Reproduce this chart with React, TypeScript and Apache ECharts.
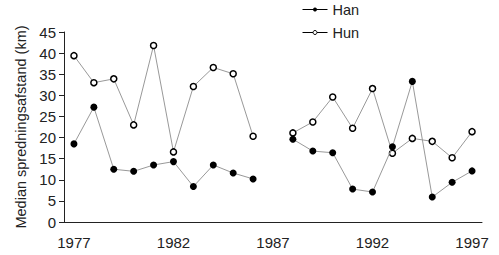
import React, { useEffect, useRef } from "react";
import * as echarts from "echarts";

const years = [
  "1977", "1978", "1979", "1980", "1981", "1982", "1983", "1984", "1985", "1986", "1987",
  "1988", "1989", "1990", "1991", "1992", "1993", "1994", "1995", "1996", "1997",
];
const han: (number | null)[] = [
  18.5, 27.2, 12.5, 12.0, 13.5, 14.3, 8.4, 13.5, 11.6, 10.2, null,
  19.6, 16.8, 16.4, 7.8, 7.1, 17.8, 33.3, 5.9, 9.4, 12.1,
];
const hun: (number | null)[] = [
  39.4, 33.0, 33.9, 23.0, 41.8, 16.6, 32.1, 36.6, 35.1, 20.3, null,
  21.1, 23.7, 29.6, 22.2, 31.6, 16.3, 19.8, 19.1, 15.2, 21.4,
];

const FONT = "'Liberation Sans', Arial, sans-serif";
const AX = "#222";

export default function App() {
  const ref = useRef<HTMLDivElement>(null);
  useEffect(() => {
    if (!ref.current) return;
    const chart = echarts.init(ref.current, undefined, { renderer: "svg" });
    chart.setOption({
      animation: false,
      backgroundColor: "#fff",
      textStyle: { fontFamily: FONT },
      legend: {
        orient: "vertical",
        left: 302,
        top: 2,
        padding: 0,
        itemWidth: 25,
        itemHeight: 5,
        itemGap: 8,
        textStyle: { fontFamily: FONT, fontSize: 14.5, color: AX },
        lineStyle: { color: "#000", width: 1 },
        itemStyle: { borderWidth: 1 },
        data: ["Han", "Hun"],
      },
      grid: { left: 64, right: 17, top: 32, bottom: 33 },
      xAxis: {
        type: "category",
        data: years,
        boundaryGap: true,
        axisLine: { lineStyle: { color: AX, width: 1 } },
        axisTick: { interval: 0, length: 5, lineStyle: { color: AX } },
        axisLabel: { interval: 4, margin: 13, fontSize: 15, color: AX, fontFamily: FONT },
        splitLine: { show: false },
      },
      yAxis: {
        type: "value",
        min: 0,
        max: 45,
        interval: 5,
        name: "Median spredningsafstand (km)",
        nameLocation: "middle",
        nameGap: 36,
        nameTextStyle: { fontSize: 14.5, color: AX, fontFamily: FONT },
        axisLine: { show: true, lineStyle: { color: AX, width: 1 } },
        axisTick: { show: true, length: 5, lineStyle: { color: AX } },
        axisLabel: { margin: 8, fontSize: 15, color: AX, fontFamily: FONT },
        splitLine: { show: false },
      },
      series: [
        {
          name: "Han",
          type: "line",
          data: han,
          connectNulls: false,
          symbol: "circle",
          symbolSize: 7,
          itemStyle: { color: "#000" },
          lineStyle: { color: "#999", width: 1 },
          z: 3,
        },
        {
          name: "Hun",
          type: "line",
          data: hun,
          connectNulls: false,
          symbol: "circle",
          symbolSize: 6,
          itemStyle: { color: "#fff", borderColor: "#000", borderWidth: 1.5 },
          lineStyle: { color: "#999", width: 1 },
          z: 2,
        },
      ],
    });
    return () => chart.dispose();
  }, []);
  return <div ref={ref} style={{ width: 499, height: 255, position: "absolute", left: 0, top: 0 }} />;
}
